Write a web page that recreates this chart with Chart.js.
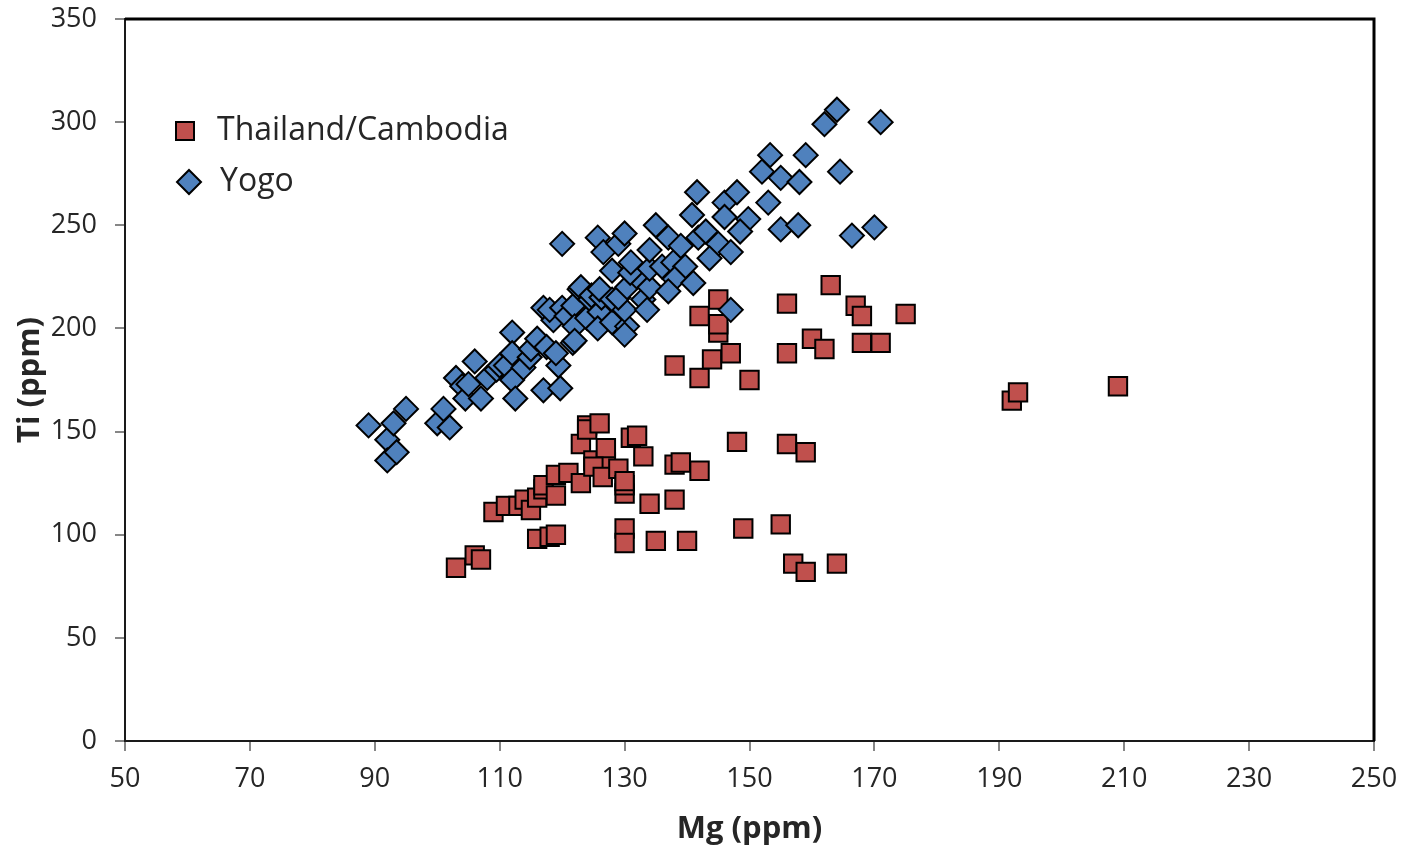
<!DOCTYPE html>
<html>
<head>
<meta charset="utf-8">
<script src="https://cdn.jsdelivr.net/npm/chart.js@4/dist/chart.umd.min.js"></script>
<style>
  html, body { margin: 0; padding: 0; background: #fff; }
  #wrap { width: 1418px; height: 856px; }
</style>
</head>
<body>
<div id="wrap"><canvas id="chart" width="1418" height="856"></canvas></div>
<script>
// valori (Mg, Ti in ppm)
const thaiMg = [103,106,107,109,111,113,114,115,116,118,119,116,117,117,119,119,121,123,123,124,124,125,126,127,127,125,126.5,129,130,130,130,130,130,131,132,133,134,135,138,139,138,140,142,138,142,142,144,145,145,145,147,148,149,150,155,156,156,156,157,159,159,160,162,163,164,167,168,168,171,175,192,193,209];
const thaiTi = [84,90,88,111,114,114,117,112,98,99,100,118,122,124,129,119,130,125,144,153,151,136,154,135,142,133,128,132,120,124,126,103,96,147,148,138,115,97,134,135,117,97,131,182,176,206,185,214,198,202,188,145,103,175,105,212,188,144,86,140,82,195,190,221,86,211,206,193,193,207,165,169,172];

const yogoMg = [89,92,92,93.5,93,95,100,101,102,103,104,104.5,105,106,107,108,109.5,110,111,112,112,112,112.5,113.8,114.8,115,116,117.5,117,119.7,119.4,121.7,117,118.6,118,120,119,120.7,121.8,122,122,122.8,123,124,124.5,124.7,126,125.7,126.3,126,128,128,128,130.4,130,129,130.4,132,133,133.6,134,130.9,134,136,137.8,139.7,138,137,141,120,125.7,126.6,129,130,131,134,135,137,139,141.6,140.8,141.8,143,145,143.6,146,146,148,149.8,148.5,147,147,152,153.3,155,153,155,157.8,158,159,162,164,164.5,166.4,170,171,130];
const yogoTi = [153,146,136,140,154,161,154,161,152,176,172,166,173,184,166,176,180,182,182,198,188,175,166,181,186,190,195,191,170,171,182,193,210,204,209,210,188,206,211,201,194,219,220,205,214,216,208,200,215,219,203,214,228,201,209,215,220,225,214,209,220,227,229,230,232,230,224,218,222,241,244,237,241,246,232,238,250,244,240,266,255,244,247,241,234,261,254,266,253,247,237,209,276,284,273,261,248,250,271,284,299,306,276,245,249,300,197];

const xTicks = [50,70,90,110,130,150,170,190,210,230,250];
const yTicks = [0,50,100,150,200,250,300,350];

const seriesNames = ['Thailand/Cambodia', 'Yogo'];
const redFill = '#C0504D';
const blueFill = '#4F81BD';
const textColor = '#262626';
const fontFamily = '"Open Sans", "Noto Sans", sans-serif';

const toPoints = (xs, ys) => xs.map((x, i) => ({ x: x, y: ys[i] }));

// plugin: bordo superiore/destro e legenda interna
const frameAndLegend = {
  id: 'frameAndLegend',
  afterDatasetsDraw(chart) {
    const { ctx, chartArea } = chart;
    ctx.save();
    ctx.strokeStyle = '#000';
    ctx.lineWidth = 3;
    ctx.beginPath();
    ctx.moveTo(chartArea.left, chartArea.top);
    ctx.lineTo(chartArea.right, chartArea.top);
    ctx.lineTo(chartArea.right, chartArea.bottom);
    ctx.stroke();

    // legenda
    ctx.lineWidth = 2;
    ctx.font = '32px ' + fontFamily;
    ctx.textBaseline = 'middle';
    // quadrato
    ctx.fillStyle = redFill;
    ctx.fillRect(176, 122, 18, 18);
    ctx.strokeRect(176, 122, 18, 18);
    ctx.fillStyle = textColor;
    ctx.fillText(seriesNames[0], 217, 131);
    // rombo
    ctx.beginPath();
    ctx.moveTo(189, 170);
    ctx.lineTo(201, 182);
    ctx.lineTo(189, 194);
    ctx.lineTo(177, 182);
    ctx.closePath();
    ctx.fillStyle = blueFill;
    ctx.fill();
    ctx.stroke();
    ctx.fillStyle = textColor;
    ctx.fillText(seriesNames[1], 220, 182);
    ctx.restore();
  }
};

const ctx = document.getElementById('chart').getContext('2d');
new Chart(ctx, {
  type: 'scatter',
  data: {
    datasets: [{
      label: seriesNames[0],
      data: toPoints(thaiMg, thaiTi),
      pointStyle: 'rect',
      pointRadius: 13,
      pointHoverRadius: 13,
      backgroundColor: redFill,
      borderColor: '#000',
      borderWidth: 2,
      order: 2
    }, {
      label: seriesNames[1],
      data: toPoints(yogoMg, yogoTi),
      pointStyle: 'rectRot',
      pointRadius: 12,
      pointHoverRadius: 12,
      backgroundColor: blueFill,
      borderColor: '#000',
      borderWidth: 2,
      order: 1
    }]
  },
  options: {
    responsive: false,
    animation: false,
    layout: { padding: { left: 0, right: 44, top: 19, bottom: 0 } },
    plugins: {
      legend: { display: false },
      tooltip: { enabled: false }
    },
    scales: {
      x: {
        type: 'linear',
        min: 50,
        max: 250,
        afterBuildTicks: s => { s.ticks = xTicks.map(v => ({ value: v })); },
        afterFit: s => { s.height = 115; s.paddingLeft = 0; s.paddingRight = 0; },
        grid: { drawOnChartArea: false, drawTicks: true, tickLength: 10, color: '#868686', lineWidth: 2 },
        border: { display: true, color: '#1a1a1a', width: 2 },
        ticks: { color: textColor, font: { family: fontFamily, size: 27 }, padding: 12, maxRotation: 0 },
        title: { display: true, text: 'Mg (ppm)', color: textColor, font: { family: fontFamily, size: 31, weight: 'bold' }, padding: { top: 4, bottom: 8 } }
      },
      y: {
        type: 'linear',
        min: 0,
        max: 350,
        afterBuildTicks: s => { s.ticks = yTicks.map(v => ({ value: v })); },
        afterFit: s => { s.width = 125; s.paddingTop = 0; s.paddingBottom = 0; },
        grid: { drawOnChartArea: false, drawTicks: true, tickLength: 10, color: '#868686', lineWidth: 2 },
        border: { display: true, color: '#1a1a1a', width: 2 },
        ticks: { color: textColor, font: { family: fontFamily, size: 27 }, padding: 18 },
        title: { display: true, text: 'Ti (ppm)', color: textColor, font: { family: fontFamily, size: 31, weight: 'bold' }, padding: { top: 12, bottom: 4 } }
      }
    }
  },
  plugins: [frameAndLegend]
});
</script>
</body>
</html>
